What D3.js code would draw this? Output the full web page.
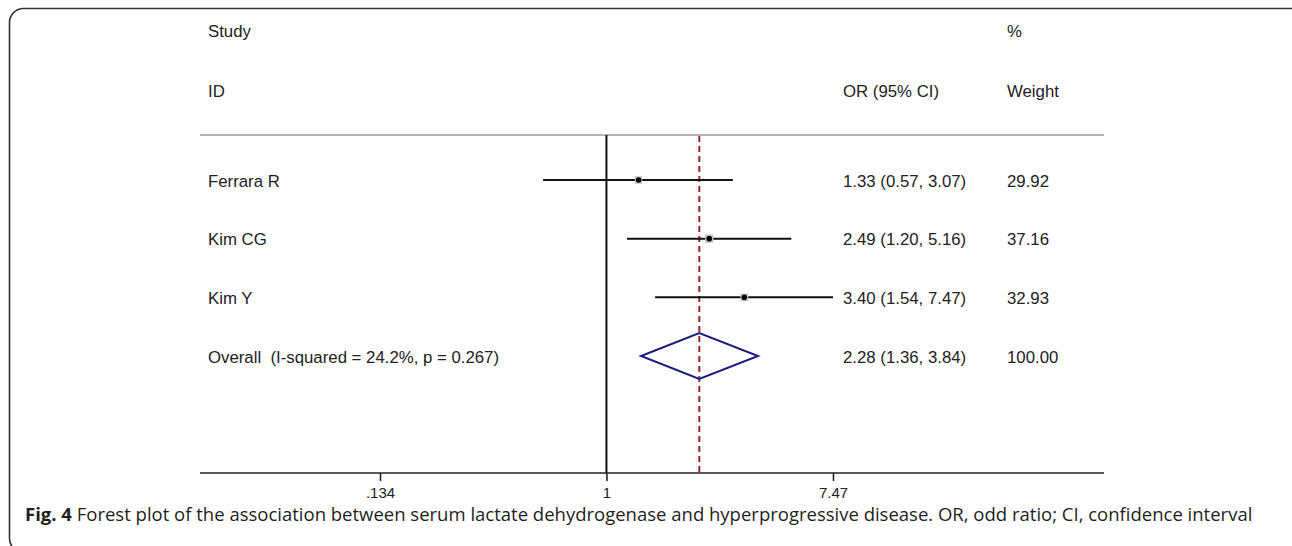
<!DOCTYPE html>
<html>
<head>
<meta charset="utf-8">
<script src="https://cdn.jsdelivr.net/npm/d3@7"></script>
<style>
  body { margin: 0; background: #fff; }
  svg { display: block; }
  text { white-space: pre; }
</style>
</head>
<body>
<div class="divCard"></div>
<script>
var studies = ["Ferrara R", "Kim CG", "Kim Y"];
var orValues = [1.33, 2.49, 3.40];
var lowerCI = [0.57, 1.20, 1.54];
var upperCI = [3.07, 5.16, 7.47];
var weights = [29.92, 37.16, 32.93];

var overallLabel = "Overall  (I-squared = 24.2%, p = 0.267)";
var overall = [2.28, 1.36, 3.84];   // OR, lower, upper
var overallWeight = "100.00";

var tickValues = [0.134, 1, 7.47];
var tickLabels = [".134", "1", "7.47"];

var captionBold = "Fig. 4";
var captionText = " Forest plot of the association between serum lactate dehydrogenase and hyperprogressive disease. OR, odd ratio; CI, confidence interval";

var W = 1292, H = 546;
var plotLeft = 200, plotRight = 1104;
var headTop = 135, axisY = 473;
var textCol = "#222";
var txtFont = "'Liberation Sans', Arial, sans-serif";

var svg = d3.select(".divCard")
  .append("svg")
  .attr("width", W)
  .attr("height", H);

// rounded frame, runs off the right and bottom edges
svg.append("rect")
  .attr("x", 9.5)
  .attr("y", 8.5)
  .attr("width", 1300)
  .attr("height", 544)
  .attr("rx", 14)
  .attr("fill", "none")
  .attr("stroke", "#333")
  .attr("stroke-width", 1.6);

// log scale, anchored on the tick labels
var xScale = d3.scaleLog().domain([0.134, 7.47]).range([380, 833]);

var rowNames = studies.concat([overallLabel]);
var yScale = d3.scalePoint().domain(rowNames).range([180, 356]);

// header
function headText(t, x, y) {
  svg.append("text")
    .attr("x", x).attr("y", y)
    .attr("font-family", txtFont)
    .attr("font-size", "16.8px")
    .attr("fill", textCol)
    .text(t);
}
headText("Study", 208, 37);
headText("ID", 208, 97);
headText("%", 1007, 37);
headText("OR (95% CI)", 843, 97);
headText("Weight", 1007, 97);

svg.append("line")
  .attr("x1", plotLeft).attr("x2", plotRight)
  .attr("y1", headTop).attr("y2", headTop)
  .attr("stroke", "#b4b4b4")
  .attr("stroke-width", 2);

// null line at OR = 1
svg.append("line")
  .attr("x1", xScale(1)).attr("x2", xScale(1))
  .attr("y1", headTop).attr("y2", axisY)
  .attr("stroke", "#111")
  .attr("stroke-width", 2);

// overall estimate line
svg.append("line")
  .attr("x1", xScale(overall[0])).attr("x2", xScale(overall[0]))
  .attr("y1", headTop + 1).attr("y2", axisY)
  .attr("stroke", "#a3232a")
  .attr("stroke-width", 2)
  .attr("stroke-dasharray", "6,4");

// study rows
var rows = studies.map(function(d, i) {
  return { name: d, or: orValues[i], lo: lowerCI[i], hi: upperCI[i], w: weights[i] };
});

svg.selectAll(".ci")
  .data(rows)
  .enter()
  .append("line")
  .attr("class", "ci")
  .attr("x1", function(d) { return xScale(d.lo); })
  .attr("x2", function(d) { return xScale(d.hi); })
  .attr("y1", function(d) { return yScale(d.name); })
  .attr("y2", function(d) { return yScale(d.name); })
  .attr("stroke", "#111")
  .attr("stroke-width", 2);

svg.selectAll(".box")
  .data(rows)
  .enter()
  .append("rect")
  .attr("class", "box")
  .attr("x", function(d) { return xScale(d.or) - Math.sqrt(d.w) * 0.68; })
  .attr("y", function(d) { return yScale(d.name) - Math.sqrt(d.w) * 0.68; })
  .attr("width", function(d) { return Math.sqrt(d.w) * 1.36; })
  .attr("height", function(d) { return Math.sqrt(d.w) * 1.36; })
  .attr("fill", "#c4c4c4");

svg.selectAll(".dot")
  .data(rows)
  .enter()
  .append("circle")
  .attr("class", "dot")
  .attr("cx", function(d) { return xScale(d.or); })
  .attr("cy", function(d) { return yScale(d.name); })
  .attr("r", 2.8)
  .attr("fill", "#000");

// diamond
var oy = yScale(overallLabel);
svg.append("path")
  .attr("d", "M" + xScale(overall[1]) + "," + oy +
             "L" + xScale(overall[0]) + "," + (oy - 23) +
             "L" + xScale(overall[2]) + "," + oy +
             "L" + xScale(overall[0]) + "," + (oy + 23) + "Z")
  .attr("fill", "none")
  .attr("stroke", "#1c1c80")
  .attr("stroke-width", 2);

// row text
function fmt(v) { return v.toFixed(2); }
var rowText = rows.map(function(d) {
  return { name: d.name, ci: fmt(d.or) + " (" + fmt(d.lo) + ", " + fmt(d.hi) + ")", w: fmt(d.w) };
});
rowText.push({ name: overallLabel, ci: fmt(overall[0]) + " (" + fmt(overall[1]) + ", " + fmt(overall[2]) + ")", w: overallWeight });

rowText.forEach(function(d) {
  var y = yScale(d.name) + 6.5;
  headText(d.name, 208, y);
  headText(d.ci, 843, y);
  headText(d.w, 1007, y);
});

// x axis
svg.append("line")
  .attr("x1", plotLeft).attr("x2", plotRight)
  .attr("y1", axisY).attr("y2", axisY)
  .attr("stroke", "#222")
  .attr("stroke-width", 1.6);

var xAxis = svg.append("g")
  .attr("transform", "translate(0," + axisY + ")")
  .call(d3.axisBottom(xScale)
    .tickValues(tickValues)
    .tickFormat(function(d, i) { return tickLabels[i]; })
    .tickSize(8)
    .tickPadding(6));
xAxis.select(".domain").remove();
xAxis.selectAll(".tick line").attr("stroke", "#222").attr("stroke-width", 1.6);
xAxis.selectAll(".tick text")
  .attr("font-family", txtFont)
  .attr("font-size", "15px")
  .attr("fill", textCol);

// caption
var cap = svg.append("text")
  .attr("x", 25)
  .attr("y", 520.5)
  .attr("font-family", "'Open Sans', 'Noto Sans', sans-serif")
  .attr("font-size", "18px")
  .attr("fill", "#231f20");
cap.append("tspan").attr("font-weight", "bold").text(captionBold);
cap.append("tspan").text(captionText);

var capW = cap.node().getComputedTextLength();
cap.attr("font-size", (18 * 1228 / capW).toFixed(2) + "px");
</script>
</body>
</html>
